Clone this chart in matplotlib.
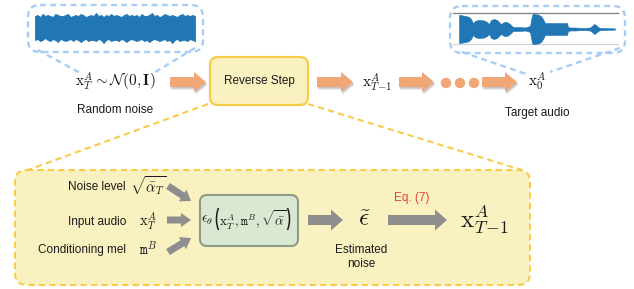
import numpy as np
import matplotlib
matplotlib.use('Agg')
import matplotlib.pyplot as plt
from matplotlib.patches import FancyBboxPatch, Polygon, Circle, Arc

# ---------------- data ----------------
noise_top = [16, 15, 17, 14, 16, 15, 16, 17,
             14, 15, 16, 16, 15, 14, 17, 16,
             15, 16, 14, 15, 17, 16, 15, 16,
             13, 16, 15, 17, 15, 16, 14, 16,
             15, 16, 17, 15, 14, 16, 15, 16,
             15, 17, 14, 16, 16, 15, 13, 16,
             15, 17, 16, 14, 15, 16, 15, 16,
             17, 15, 14, 16, 15, 16, 15, 16]
noise_bottom = [40, 39, 41, 40, 38, 40, 41, 39,
                40, 42, 39, 40, 41, 40, 39, 41,
                39, 40, 42, 40, 39, 41, 40, 40,
                41, 39, 40, 43, 40, 39, 41, 40,
                40, 41, 39, 40, 42, 40, 39, 40,
                41, 40, 39, 41, 40, 42, 40, 39,
                40, 41, 40, 39, 41, 40, 43, 40,
                39, 41, 40, 40, 41, 39, 40, 41]

target_x = [459, 460, 463, 466, 469, 471, 473, 475, 478, 481,
            484, 487, 489, 491, 494, 497, 499, 501, 504, 507,
            510, 513, 516, 520, 525, 530, 532, 533, 535, 538,
            541, 543, 545, 546, 550, 555, 560, 565, 567, 568,
            570, 575, 580, 585, 590, 592, 594, 596, 598, 600,
            605, 610, 615]
target_amp = [14, 14, 13.5, 13, 12, 10, 6, 8, 9, 9,
              8.5, 7, 5, 9, 10, 9, 7, 5, 7, 7,
              5, 2, 2, 2, 1.5, 3, 14, 15, 15, 14.5,
              13, 10, 6, 6, 6, 6, 6, 6, 6, 2,
              1.5, 1.5, 1.2, 1.2, 1.5, 3, 5, 4, 2, 1.2,
              1, 0.8, 0.6]

top_labels = ['Random noise', 'Reverse Step', 'Target audio']
input_labels = ['Noise level', 'Input audio', 'Conditioning mel']
input_symbols = [r'$\sqrt{\bar{\alpha}_T}$', r'$\mathrm{x}_T^A$', r'$\mathtt{m}^B$']

# ---------------- style ----------------
plt.rcParams['mathtext.fontset'] = 'cm'
plt.rcParams['font.family'] = ['Liberation Sans', 'DejaVu Sans']

ORANGE = '#f1a676'
GRAY = '#8e8e8e'
BLUE = '#2176b4'
LBLUE = '#a8cdf5'
YFACE = '#faf1c0'
YEDGE = '#f6cc48'
TXT = '#1a1a1a'

fig = plt.figure(figsize=(6.34, 2.89), dpi=100)
ax = fig.add_axes([0, 0, 1, 1])
ax.set_xlim(0, 634)
ax.set_ylim(289, 0)
ax.axis('off')


def block_arrow(x0, y0, x1, y1, w, hw, hl, color, shadow=False, z=3):
    d = np.array([x1 - x0, y1 - y0], dtype=float)
    L = np.hypot(*d)
    u = d / L
    n = np.array([-u[1], u[0]])
    p0 = np.array([x0, y0], dtype=float)
    pb = p0 + u * (L - hl)
    tip = np.array([x1, y1], dtype=float)
    pts = [p0 + n * w / 2, pb + n * w / 2, pb + n * hw / 2, tip,
           pb - n * hw / 2, pb - n * w / 2, p0 - n * w / 2]
    if shadow:
        for k, a in [(3.0, 0.08), (2.2, 0.12), (1.5, 0.18)]:
            sp = [p + np.array([k * 0.6, k]) for p in pts]
            ax.add_patch(Polygon(sp, closed=True, fc='#555555', ec='none',
                                 alpha=a, zorder=z - 0.5))
    ax.add_patch(Polygon(pts, closed=True, fc=color, ec='none', zorder=z))


def rbox(x0, y0, x1, y1, r, fc, ec, lw, ls='-', z=2):
    ax.add_patch(FancyBboxPatch((x0, y0), x1 - x0, y1 - y0,
                                boxstyle=f'round,pad=0,rounding_size={r}',
                                fc=fc, ec=ec, lw=lw, ls=ls, zorder=z))


DASH = (0, (3, 2))
BDASH = (0, (2.5, 1.8))

# ---------------- lower big dashed box + connecting lines ----------------
rbox(15, 170, 530, 285, 12, YFACE, YEDGE, 1.5, ls=DASH, z=1)
ax.plot([208, 28], [104, 170], color=YEDGE, lw=1.5, ls=DASH, zorder=1)
ax.plot([308, 522], [104, 170], color=YEDGE, lw=1.5, ls=DASH, zorder=1)

# ---------------- noise bubble ----------------
rbox(28, 5, 203, 52, 12, 'none', LBLUE, 1.7, ls=BDASH, z=2)
ax.plot([38, 82], [50, 74], color=LBLUE, lw=1.7, ls=BDASH, zorder=2)
ax.plot([195, 152], [48, 74], color=LBLUE, lw=1.7, ls=BDASH, zorder=2)
nx = np.linspace(35, 195, len(noise_top))
ax.fill_between(nx, noise_top, noise_bottom, color=BLUE, lw=0.6, ec=BLUE, zorder=3)

# ---------------- target bubble ----------------
rbox(450, 6, 625, 53, 12, 'none', LBLUE, 1.7, ls=BDASH, z=2)
ax.plot([462, 526], [52, 74], color=LBLUE, lw=1.7, ls=BDASH, zorder=2)
ax.plot([620, 550], [48, 72], color=LBLUE, lw=1.7, ls=BDASH, zorder=2)
ax.plot([453, 618], [13, 13], color='#7f7f7f', lw=0.9, zorder=3)
ax.plot([453, 618], [43.5, 43.5], color='#d4d4d4', lw=0.9, zorder=3)
ta = np.array(target_amp)
ax.fill_between(target_x, 29 - ta, 29 + ta, color=BLUE, lw=0.4, ec=BLUE, zorder=3)

# ---------------- top row ----------------
ax.text(115, 82, r'$\mathrm{x}_T^A \sim \mathcal{N}(\mathbf{0},\mathbf{I})$',
        fontsize=11, ha='center', va='center', color=TXT)
ax.text(115, 110, top_labels[0], fontsize=8.5, ha='center', va='center', color=TXT)

block_arrow(170, 82, 206, 82, 10, 20, 12, ORANGE, shadow=True)
rbox(210, 57, 308, 105, 8, YFACE, YEDGE, 1.6, z=3)
ax.text(259, 81, top_labels[1], fontsize=8.5, ha='center', va='center', color=TXT, zorder=4)

block_arrow(317, 82, 353, 82, 10, 20, 12, ORANGE, shadow=True)
ax.text(377, 83, r'$\mathrm{x}_{T\!-\!1}^A$', fontsize=11, ha='center', va='center', color=TXT)
block_arrow(399, 82, 434, 82, 10, 20, 12, ORANGE, shadow=True)
for cx in [446, 460, 474]:
    ax.add_patch(Circle((cx, 83), 5.2, fc=ORANGE, ec='none', zorder=3))
block_arrow(482, 82, 517, 82, 10, 20, 12, ORANGE, shadow=True)
ax.text(537, 82, r'$\mathrm{x}_0^A$', fontsize=11, ha='center', va='center', color=TXT)
ax.text(537, 113, top_labels[2], fontsize=8.5, ha='center', va='center', color=TXT)

# ---------------- lower box contents ----------------
label_y = [187, 222, 250]
for lab, sym, y in zip(input_labels, input_symbols, label_y):
    ax.text(126, y, lab, fontsize=8.5, ha='right', va='center', color=TXT, zorder=4)
    ax.text(148, y - 1, sym, fontsize=10.5, ha='center', va='center', color=TXT, zorder=4)

block_arrow(168, 186, 191, 201, 7, 14, 10, GRAY)
block_arrow(167, 220, 191, 220, 7, 14, 10, GRAY)
block_arrow(168, 252, 191, 238, 7, 14, 10, GRAY)

rbox(200, 195, 298, 246, 7, '#dae8d2', '#8c9c89', 1.5, z=3)
ax.text(201, 220, r'$\epsilon_\theta$', fontsize=10, ha='left', va='center',
        color=TXT, zorder=4)
ax.add_patch(Arc((223, 219), 13, 30, theta1=112, theta2=248, lw=1.1, color=TXT, zorder=4))
ax.text(253, 220, r'$\mathrm{x}_T^A, \mathtt{m}^B, \sqrt{\bar{\alpha}}$',
        fontsize=9.5, ha='center', va='center', color=TXT, zorder=4)
ax.add_patch(Arc((283, 219), 13, 30, theta1=-68, theta2=68, lw=1.1, color=TXT, zorder=4))

block_arrow(308, 220, 343, 220, 10, 21, 12, GRAY)
ax.text(364, 219, r'$\tilde{\epsilon}$', fontsize=18, ha='center', va='center', color=TXT)
ax.text(361, 257, 'Estimated\nnoise', fontsize=8.5, ha='center', va='center',
        color=TXT, linespacing=1.3)
block_arrow(388, 220, 447, 220, 10, 21, 12, GRAY)
ax.text(412, 198, 'Eq. (7)', fontsize=8.5, ha='center', va='center', color='#e8412e')
ax.text(484, 220, r'$\mathrm{x}_{T\!-\!1}^A$', fontsize=18, ha='center', va='center', color=TXT)

fig.savefig('out.png', dpi=100)
